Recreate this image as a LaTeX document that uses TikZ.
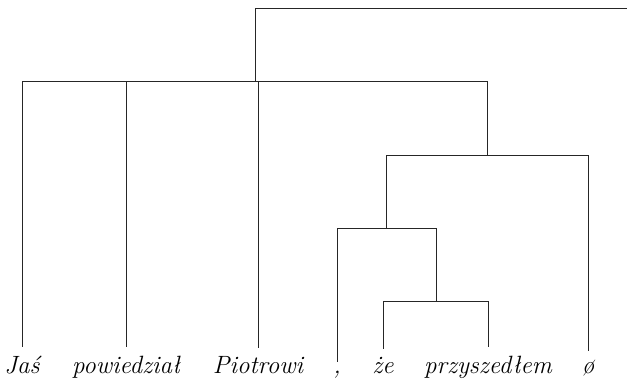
\documentclass[tikz,border=0pt]{standalone}
\begin{document}
\begin{tikzpicture}[x=1pt,y=1pt,
  edge/.style={draw=black!85, line width=0.75pt},
  leaf/.style={anchor=base, inner xsep=0pt, inner ysep=9pt, font=\fontsize{25}{30}\selectfont\itshape}]
\useasboundingbox (0,0) rectangle (627,382);
% internal joints
\coordinate (R1) at (255,374);
\coordinate (R2) at (627,374);
\coordinate (A) at (255,301);
\coordinate (B) at (487,227);
\coordinate (C) at (386,154);
\coordinate (D) at (436,81);
% leaves
\node[leaf] (l1) at (22,8) {Jaś};
\node[leaf] (l2) at (126,8) {powiedział};
\node[leaf] (l3) at (258,8) {Piotrowi};
\node[leaf] (l4) at (337,8) {,};
\node[leaf] (l5) at (383,8) {że};
\node[leaf] (l6) at (488,8) {przyszedłem};
\node[leaf] (l7) at (588,8) {ø};
% connectors
\draw[edge] (R2) -- (R1) -- (A);
\draw[edge] (A) -| (l1.north);
\draw[edge] (A) -| (l2.north);
\draw[edge] (A) -| (l3.north);
\draw[edge] (A) -| (B);
\draw[edge] (B) -| (C);
\draw[edge] (B) -| (l7.north);
\draw[edge] (C) -| (l4.north);
\draw[edge] (C) -| (D);
\draw[edge] (D) -| (l5.north);
\draw[edge] (D) -| (l6.north);
\end{tikzpicture}
\end{document}
